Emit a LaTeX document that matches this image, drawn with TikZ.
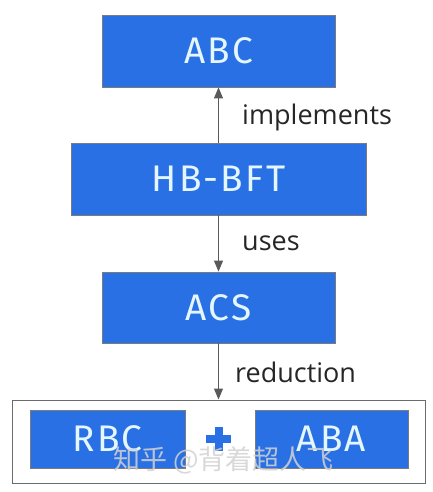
\documentclass[tikz,border=0pt]{standalone}
\usepackage{fontspec}
\setmainfont{Open Sans}
\newfontfamily\boxfont[LetterSpace=6]{Fira Sans}
\newfontfamily\cjk{Noto Sans CJK SC}
\usetikzlibrary{arrows.meta}
\definecolor{boxblue}{RGB}{41,112,228}
\definecolor{boxtext}{RGB}{228,246,255}
\definecolor{linegray}{RGB}{90,90,90}
\tikzset{
  bluebox/.style={draw=linegray!80, line width=0.8pt, fill=boxblue, inner sep=0pt, text=boxtext, font=\boxfont\fontsize{37}{42}\selectfont},
  conn/.style={draw=linegray, line width=1.1pt, -{Triangle[length=11pt,width=9pt]}},
  lbl/.style={font=\fontsize{27}{32}\selectfont, text=black!85, anchor=west, inner sep=0pt}
}
\begin{document}
\begin{tikzpicture}[x=1pt,y=-1pt]
\useasboundingbox (0,0) rectangle (432,492);
\fill[white] (0,0) rectangle (432,492);
\node[bluebox, minimum width=233pt, minimum height=72pt] (abc) at (218.5,51) {ABC};
\node[bluebox, minimum width=295pt, minimum height=72pt] (hb) at (218.5,179) {HB-BFT};
\node[bluebox, minimum width=233pt, minimum height=71pt] (acs) at (218.5,307.5) {ACS};
\node[draw=linegray!90, line width=1pt, fill=white, minimum width=413pt, minimum height=83pt, inner sep=0pt] (outer) at (218.5,441.5) {};
\node[bluebox, minimum width=155pt, minimum height=58pt] (rbc) at (107.5,439) {RBC};
\node[bluebox, minimum width=153pt, minimum height=58pt] (aba) at (331.5,439) {ABA};
\node[inner sep=0pt, minimum size=24pt] (plus) at (218.5,439) {};
\fill[boxblue] ([xshift=-4pt]plus.north) rectangle ([xshift=4pt]plus.south);
\fill[boxblue] ([yshift=4pt]plus.west) rectangle ([yshift=-4pt]plus.east);
\draw[conn] (hb.north) -- (abc.south);
\draw[conn] (hb.south) -- (acs.north);
\draw[conn] (acs.south) -- (outer.north);
\node[lbl] (limp) at (242,117) {implements};
\node[lbl] (luses) at (242,243) {uses};
\node[lbl] (lred) at (235,372) {reduction};
\node[font=\cjk\fontsize{27}{30}\selectfont, text=gray!35, opacity=0.85, anchor=west, inner sep=0pt] (wm) at (113,460) {知乎 @背着超人飞};
\end{tikzpicture}
\end{document}
